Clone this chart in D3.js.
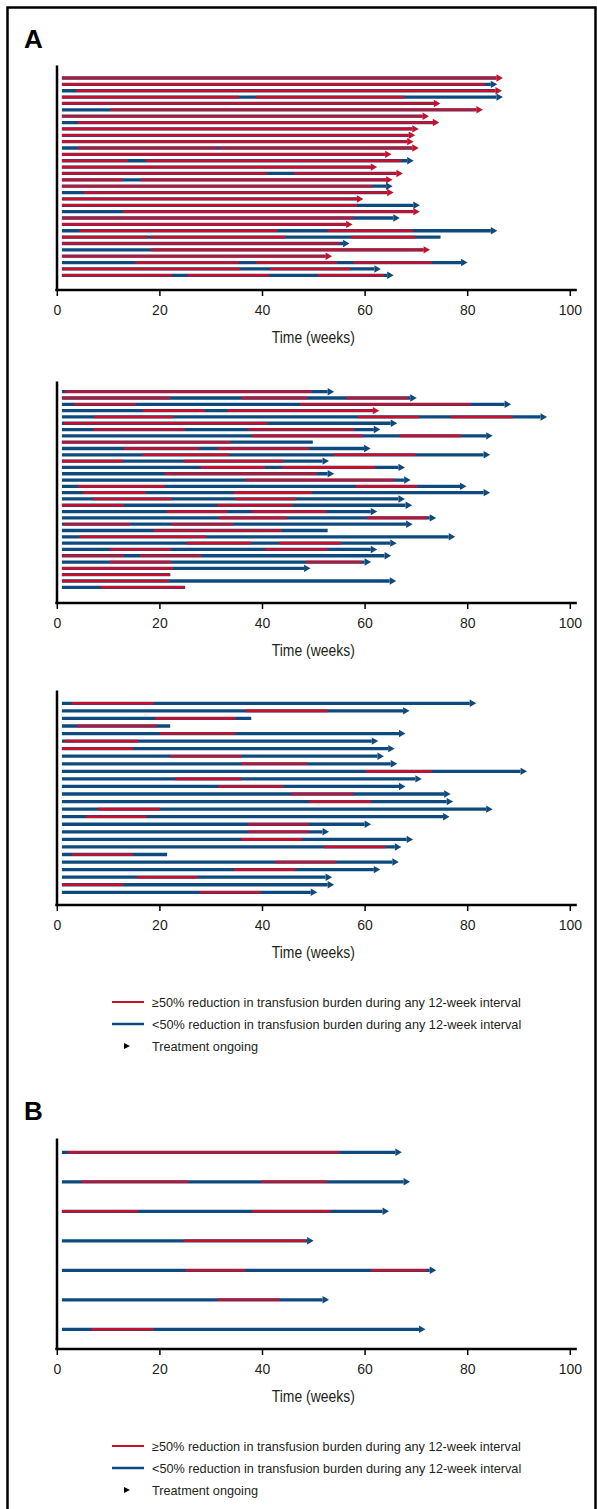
<!DOCTYPE html>
<html>
<head>
<meta charset="utf-8">
<script src="https://cdn.jsdelivr.net/npm/d3@7"></script>
<style>
  body { margin: 0; background: #fff; }
  svg text { font-family: "Liberation Sans", Arial, Helvetica, sans-serif; fill: #231f20; }
</style>
</head>
<body>
<div id="chart"></div>
<script>
// each patient: [segment colours (r = >=50% reduction, b = <50%), segment end weeks, treatment ongoing]
const panelA1 = [
  ["r", [85.7], 1],
  ["rb", [83.5, 84.6], 1],
  ["br", [3.8, 85.5], 1],
  ["rbrb", [35.5, 38.8, 67.8, 85.7], 1],
  ["r", [73.5], 1],
  ["br", [10.5, 81.8], 1],
  ["r", [71.3], 1],
  ["br", [4.1, 73.3], 1],
  ["r", [69.3], 1],
  ["r", [68.6], 1],
  ["r", [68.3], 1],
  ["brbr", [4.1, 31.2, 31.7, 69.3], 1],
  ["r", [64.0], 1],
  ["rbrb", [13.8, 17.4, 67.2, 68.3], 1],
  ["r", [61.2], 1],
  ["rbr", [41.0, 46.3, 66.2], 1],
  ["rbr", [12.9, 16.4, 64.2], 1],
  ["rb", [61.5, 64.2], 1],
  ["br", [5.3, 64.4], 1],
  ["r", [58.5], 1],
  ["rb", [58.5, 69.5], 1],
  ["br", [12.9, 69.5], 1],
  ["rb", [57.9, 65.6], 1],
  ["r", [56.4], 1],
  ["brbrb", [4.4, 43.0, 52.8, 69.4, 84.6], 1],
  ["rbrbrb", [17.7, 18.4, 44.6, 57.4, 69.9, 74.8], 0],
  ["rb", [55.1, 55.8], 1],
  ["br", [18.4, 71.5], 1],
  ["r", [52.4], 1],
  ["brbrbrb", [15.3, 35.5, 38.8, 54.6, 57.9, 73.1, 78.8], 1],
  ["rbrb", [35.8, 41.6, 57.2, 61.9], 1],
  ["rbrbrb", [22.5, 25.5, 41.4, 50.9, 63.8, 64.4], 1]
];

const panelA2 = [
  ["brb", [1.6, 49.7, 52.8], 1],
  ["rbrbrb", [22.1, 36.0, 48.9, 56.4, 68.5, 68.9], 1],
  ["brbrb", [3.4, 15.4, 47.4, 80.7, 87.3], 1],
  ["brbr", [16.8, 28.9, 33.3, 61.6], 1],
  ["brbrbrb", [7.3, 22.7, 58.7, 70.7, 76.9, 88.9, 94.3], 1],
  ["brb", [1.4, 41.1, 65.1], 1],
  ["brbrb", [7.1, 25.0, 37.3, 58.1, 61.8], 1],
  ["brbrb", [38.1, 59.7, 66.8, 78.8, 83.7], 1],
  ["rb", [33.9, 49.9], 0],
  ["brbrb", [13.1, 27.8, 31.3, 49.2, 59.9], 1],
  ["brbrb", [16.7, 33.6, 54.0, 69.9, 83.2], 1],
  ["rbrb", [12.9, 24.8, 44.2, 51.8], 1],
  ["brbrb", [28.1, 40.6, 43.9, 62.0, 66.6], 1],
  ["brb", [21.1, 50.8, 52.8], 1],
  ["brb", [36.9, 65.9, 67.7], 1],
  ["brbrb", [4.1, 21.1, 58.3, 70.3, 78.6], 1],
  ["brbrb", [5.2, 17.4, 34.5, 49.7, 83.2], 1],
  ["brbrb", [7.1, 22.4, 34.8, 46.7, 66.6], 1],
  ["rbrb", [13.1, 31.3, 46.0, 68.0], 1],
  ["brbrb", [21.5, 33.3, 38.0, 52.6, 61.2], 1],
  ["brbrb", [31.7, 44.9, 60.5, 72.2, 72.7], 1],
  ["brbrb", [1.4, 14.3, 22.3, 34.4, 68.1], 1],
  ["brb", [18.9, 43.9, 52.8], 0],
  ["brb", [4.4, 29.1, 76.4], 1],
  ["brbrb", [25.4, 37.9, 43.4, 55.4, 65.0], 1],
  ["brbrb", [10.4, 22.3, 40.6, 52.8, 61.2], 1],
  ["rbrb", [13.1, 16.2, 28.2, 63.9], 1],
  ["brbrb", [10.4, 22.3, 48.6, 59.5, 60.0], 1],
  ["rb", [22.7, 48.2], 1],
  ["r", [22.1], 0],
  ["rb", [21.9, 64.9], 1],
  ["br", [8.6, 25.0], 0]
];

const panelA3 = [
  ["brb", [3.0, 18.9, 80.5], 1],
  ["brb", [36.9, 52.8, 67.5], 1],
  ["brb", [19.2, 34.9, 37.9], 0],
  ["brb", [4.0, 19.6, 22.1], 0],
  ["brb", [20.1, 34.8, 66.7], 1],
  ["brb", [1.6, 15.8, 61.4], 1],
  ["rb", [14.9, 64.6], 1],
  ["brb", [22.1, 36.0, 62.5], 1],
  ["brb", [36.0, 48.9, 65.1], 1],
  ["brb", [60.3, 73.1, 90.4], 1],
  ["brb", [23.1, 36.0, 69.9], 1],
  ["brb", [31.5, 44.2, 66.7], 1],
  ["brb", [45.7, 57.9, 75.5], 1],
  ["brb", [49.2, 61.3, 76.0], 1],
  ["brb", [8.1, 20.1, 83.7], 1],
  ["brb", [5.7, 17.6, 75.3], 1],
  ["brb", [37.3, 49.2, 60.0], 1],
  ["brb", [37.3, 49.2, 51.8], 1],
  ["brb", [36.0, 47.8, 68.2], 1],
  ["brb", [52.1, 64.1, 65.9], 1],
  ["brb", [3.0, 14.9, 21.5], 0],
  ["brb", [42.6, 54.4, 65.4], 1],
  ["brb", [34.5, 46.5, 61.8], 1],
  ["brb", [15.7, 27.5, 52.4], 1],
  ["rb", [13.1, 52.8], 1],
  ["brb", [27.9, 39.8, 49.5], 1]
];

const panelB = [
  ["brb", [2.1, 55.1, 66.0], 1],
  ["brbrb", [4.8, 25.7, 39.9, 52.7, 67.6], 1],
  ["rbrb", [15.8, 38.1, 53.4, 63.5], 1],
  ["brb", [24.8, 48.6, 48.8], 1],
  ["brbrb", [25.1, 36.8, 61.3, 72.2, 72.7], 1],
  ["brb", [31.3, 43.5, 51.8], 1],
  ["brb", [6.8, 18.9, 70.6], 1]
];

const startWeek = 1.0;
const weekTicks = [0, 20, 40, 60, 80, 100];
const axisTitle = "Time (weeks)";
const legendLabels = [
  "\u226550% reduction in transfusion burden during any 12-week interval",
  "<50% reduction in transfusion burden during any 12-week interval",
  "Treatment ongoing"
];

const colour = { r: "#c8102e", b: "#0e4a7e" };

const W = 597, H = 1509;
const svg = d3.select("#chart").append("svg").attr("width", W).attr("height", H);

// outer frame
svg.append("rect")
  .attr("x", 7.5).attr("y", 7.5)
  .attr("width", 588).attr("height", 1520)
  .attr("fill", "none").attr("stroke", "#000").attr("stroke-width", 2.5);

svg.append("text").attr("x", 24).attr("y", 48)
  .style("font-size", "26px").style("font-weight", "bold").style("fill", "#000").text("A");
svg.append("text").attr("x", 24).attr("y", 1120)
  .style("font-size", "26px").style("font-weight", "bold").style("fill", "#000").text("B");

var x = d3.scaleLinear().domain([0, 100]).range([56.8, 569.8]);

function segments(row) {
  var out = [], s = startWeek;
  row[1].forEach(function (e, i) {
    out.push({ a: s, b: e, c: row[0][i] });
    s = e;
  });
  return out;
}

function drawPanel(rows, top, first, last, axisY) {
  var g = svg.append("g");
  var y = d3.scalePoint().domain(d3.range(rows.length)).range([first, last]);

  // y axis (no ticks)
  var yLine = d3.scaleLinear().range([top, axisY]);
  g.append("g")
    .attr("transform", `translate(${x(0) - 0.3},0)`)
    .call(d3.axisLeft(yLine).tickValues([]).tickSizeOuter(0))
    .select(".domain").attr("stroke", "#000").attr("stroke-width", 2.5);

  var bars = g.selectAll(".bar").data(rows).enter().append("g")
    .attr("class", "bar")
    .attr("transform", (d, i) => `translate(0,${y(i)})`);

  // blue base line over the whole duration
  bars.append("line")
    .attr("x1", x(startWeek))
    .attr("x2", (d) => x(d[1][d[1].length - 1]))
    .attr("stroke", colour.b).attr("stroke-width", 3.3);

  bars.selectAll(".seg").data((d) => segments(d).filter((s) => s.c === "r"))
    .enter().append("line")
    .attr("class", "seg")
    .attr("x1", (d) => x(d.a)).attr("x2", (d) => x(d.b))
    .attr("stroke", colour.r).attr("stroke-width", 2.6);

  bars.filter((d) => d[2]).append("path")
    .attr("d", function (d) {
      var e = x(d[1][d[1].length - 1]);
      return `M${e},-3.7L${e + 6.5},0L${e},3.7Z`;
    })
    .attr("fill", (d) => colour[d[0][d[0].length - 1]]);

  var xa = g.append("g")
    .attr("transform", `translate(0,${axisY})`)
    .call(d3.axisBottom(x).tickValues(weekTicks).tickSize(6).tickSizeOuter(0).tickPadding(9));
  xa.select(".domain").attr("stroke", "#000").attr("stroke-width", 2.5)
    .attr("d", `M${x(0) - 1.5},0H${x(100) + 7}`);
  xa.selectAll(".tick line").attr("stroke", "#000").attr("stroke-width", 1.5);
  xa.selectAll(".tick text").style("font-size", "14px").attr("fill", "#231f20")
    .style("font-family", '"Liberation Sans", Arial, sans-serif');

  // condensed axis title
  var cx = (x(0) + x(100)) / 2;
  g.append("text")
    .attr("transform", `translate(${cx},${axisY + 53}) scale(0.82,1)`)
    .attr("text-anchor", "middle")
    .style("font-size", "17px")
    .text(axisTitle);
}

function drawLegend(y0) {
  var g = svg.append("g").attr("transform", `translate(0,${y0})`);
  var ly = d3.scalePoint().domain([0, 1, 2]).range([0, 44]);
  g.append("line").attr("x1", 112).attr("x2", 144).attr("y1", ly(0)).attr("y2", ly(0))
    .attr("stroke", colour.r).attr("stroke-width", 2);
  g.append("line").attr("x1", 112).attr("x2", 144).attr("y1", ly(1)).attr("y2", ly(1))
    .attr("stroke", colour.b).attr("stroke-width", 2.5);
  g.append("path").attr("d", `M124,${ly(2) - 3}L130,${ly(2)}L124,${ly(2) + 3}Z`).attr("fill", "#000");
  g.selectAll(".lt").data(legendLabels).enter().append("text")
    .attr("class", "lt")
    .attr("x", 152).attr("y", (d, i) => ly(i) + 4.5)
    .style("font-size", "12.7px")
    .text((d) => d);
}

drawPanel(panelA1, 65, 78, 275.3, 290);
drawPanel(panelA2, 381, 391.7, 587.3, 603);
drawPanel(panelA3, 690, 703.3, 892.3, 905);
drawLegend(1002);
drawPanel(panelB, 1138, 1152.3, 1329.3, 1349);
drawLegend(1446);
</script>
</body>
</html>
